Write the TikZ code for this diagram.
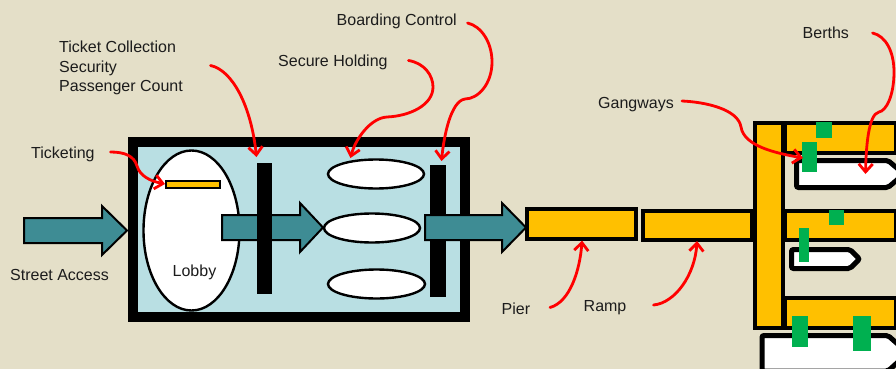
\documentclass[tikz,border=0pt]{standalone}
\usepackage{fontspec}
\setmainfont{Liberation Sans}
\usetikzlibrary{arrows.meta,shapes.geometric}
\definecolor{bgc}{HTML}{E4DFC8}
\definecolor{hallc}{HTML}{B9DFE3}
\definecolor{tealc}{HTML}{3E8C94}
\definecolor{amberc}{HTML}{FFC000}
\definecolor{greenc}{HTML}{00B050}
\definecolor{txtc}{HTML}{1C1C1C}
\tikzset{
  lbl/.style={inner sep=0pt,anchor=base west,text=txtc,font=\fontsize{16}{19.4}\selectfont},
  bigarrow/.style={draw=black,line width=2pt,fill=tealc,line join=miter},
  amberbox/.style={rectangle,draw=black,line width=4pt,fill=amberc,inner sep=0pt,outer sep=0pt},
  blackbar/.style={rectangle,fill=black,inner sep=0pt,outer sep=0pt},
  gate/.style={rectangle,fill=greenc,inner sep=0pt,outer sep=0pt},
  hold/.style={ellipse,draw=black,line width=2.4pt,fill=white,inner sep=0pt,outer sep=0pt},
  ship/.style={draw=black,line width=5pt,fill=white,rounded corners=2pt},
  callout/.style={draw=red,line width=2.8pt,line cap=round,-{Straight Barb[length=8pt,width=14pt,line width=2.8pt]}},
}
\begin{document}
\begin{tikzpicture}[x=1pt,y=-1pt]
\useasboundingbox (0,0) rectangle (896,369);
\clip (0,0) rectangle (896,369);
\fill[bgc] (0,0) rectangle (896,369);

% terminal building
\node[rectangle,draw=black,line width=10pt,fill=hallc,inner sep=0pt,outer sep=0pt,minimum width=332pt,minimum height=175pt] (hall) at (299,229.5) {};
\node[hold,minimum width=96pt,minimum height=160pt] (lobby) at (191.5,230.5) {};
\node[rectangle,draw=black,line width=2.2pt,fill=amberc,inner sep=0pt,outer sep=0pt,minimum width=54pt,minimum height=7pt] (ticketbar) at (193,184.5) {};

% street arrow
\draw[bigarrow] (24,218) -- (102,218) -- (102,206) -- (127,230.5) -- (102,255) -- (102,243) -- (24,243) -- cycle;
% hall arrow
\draw[bigarrow] (222,215) -- (300,215) -- (300,203) -- (323,227.5) -- (300,252) -- (300,240) -- (222,240) -- cycle;
\node[blackbar,minimum width=15pt,minimum height=131pt] (bar1) at (264.5,228.5) {};

\node[hold,minimum width=96pt,minimum height=29pt] (hold1) at (376,174) {};
\node[hold,minimum width=96pt,minimum height=29pt] (hold2) at (372,228) {};
\node[hold,minimum width=97pt,minimum height=29pt] (hold3) at (376.5,284) {};

\node[blackbar,minimum width=16pt,minimum height=132pt] (bar2) at (438,231) {};
% pier arrow
\draw[bigarrow] (425,215) -- (502,215) -- (502,203) -- (526,227.5) -- (502,252) -- (502,240) -- (425,240) -- cycle;

% pier and ramp
\node[amberbox,minimum width=109pt,minimum height=30pt] (pier) at (581.5,224) {};
\node[amberbox,minimum width=109pt,minimum height=29pt] (ramp) at (697,225) {};

% fingers
\node[amberbox,minimum width=111pt,minimum height=30pt] (finger1) at (840.5,138) {};
\node[amberbox,minimum width=111pt,minimum height=29pt] (finger2) at (840.5,225) {};
\node[amberbox,minimum width=111pt,minimum height=30pt] (finger3) at (840.5,312.5) {};
\node[amberbox,minimum width=28pt,minimum height=205pt] (walk) at (769,225) {};

% ships
\draw[ship] (796.5,160.5) -- (888,160.5) -- (904,174) -- (888,187.5) -- (796.5,187.5) -- cycle;
\draw[ship] (791.5,249.5) -- (850,249.5) -- (859.5,259) -- (850,268.5) -- (791.5,268.5) -- cycle;
\draw[ship] (762,335.5) -- (888,335.5) -- (908,353) -- (888,371) -- (762,371) -- cycle;

% gangways
\node[gate,minimum width=16pt,minimum height=16pt] (g1) at (824,130) {};
\node[gate,minimum width=15pt,minimum height=30pt] (g2) at (809.5,157) {};
\node[gate,minimum width=15pt,minimum height=15pt] (g3) at (836.5,217.5) {};
\node[gate,minimum width=10pt,minimum height=34pt] (g4) at (804,245) {};
\node[gate,minimum width=16pt,minimum height=31pt] (g5) at (800,331.5) {};
\node[gate,minimum width=18pt,minimum height=35pt] (g6) at (862,333.5) {};

% labels
\node[lbl] (lblticketing) at (31,158) {Ticketing};
\node[lbl] (lblstreet) at (10,280) {Street Access};
\node[lbl] (lbllobby) at (172.5,276) {Lobby};
\node[lbl] (lblcollect) at (59,52.7) {Ticket Collection};
\node[lbl] (lblsecurity) at (59,72) {Security};
\node[lbl] (lblcount) at (59,91) {Passenger Count};
\node[lbl] (lblholding) at (278,66.7) {Secure Holding};
\node[lbl] (lblboarding) at (336.5,25.7) {Boarding Control};
\node[lbl] (lblgangways) at (598,108) {Gangways};
\node[lbl] (lblberths) at (802.5,39) {Berths};
\node[lbl] (lblpier) at (501.5,314) {Pier};
\node[lbl] (lblramp) at (583.5,311) {Ramp};

% callouts
\coordinate (c1s) at (110.5,152);
\coordinate (c1e) at (165,184);
\coordinate (c2s) at (210.5,65.5);
\coordinate (c2e) at (256.5,157);
\coordinate (c3s) at (408.5,60.5);
\coordinate (c3e) at (350.5,158);
\coordinate (c4s) at (467.5,23);
\coordinate (c4e) at (441.5,161);
\coordinate (c5s) at (682,101);
\coordinate (c5e) at (803,158);
\coordinate (c6s) at (872.5,33);
\coordinate (c6e) at (865.5,174);
\coordinate (c7s) at (550,307.5);
\coordinate (c7e) at (582,240.5);
\coordinate (c8s) at (653.5,305);
\coordinate (c8e) at (697,241);

\draw[callout] (c1s) .. controls (125,152) and (134,156) .. (137,166) .. controls (140,176) and (150,181) .. (c1e);
\draw[callout] (c2s) .. controls (232,70) and (251,105) .. (c2e);
\draw[callout] (c3s) .. controls (424,63) and (433,75) .. (433,87) .. controls (433,105) and (410,116) .. (387,117) .. controls (370,118) and (355,140) .. (c3e);
\draw[callout] (c4s) .. controls (481,26) and (492,42) .. (492,62) .. controls (492,84) and (478,99) .. (465,99) .. controls (451,101) and (444,135) .. (c4e);
\draw[callout] (c5s) .. controls (705,102) and (738,109) .. (741,127) .. controls (744,146) and (775,153) .. (c5e);
\draw[callout] (c6s) .. controls (886,36) and (894,52) .. (894,72) .. controls (894,96) and (886,111) .. (879,112) .. controls (868,114) and (866,150) .. (c6e);
\draw[callout] (c7s) .. controls (570,302) and (580,270) .. (c7e);
\draw[callout] (c8s) .. controls (675,303) and (695,275) .. (c8e);
\end{tikzpicture}
\end{document}
